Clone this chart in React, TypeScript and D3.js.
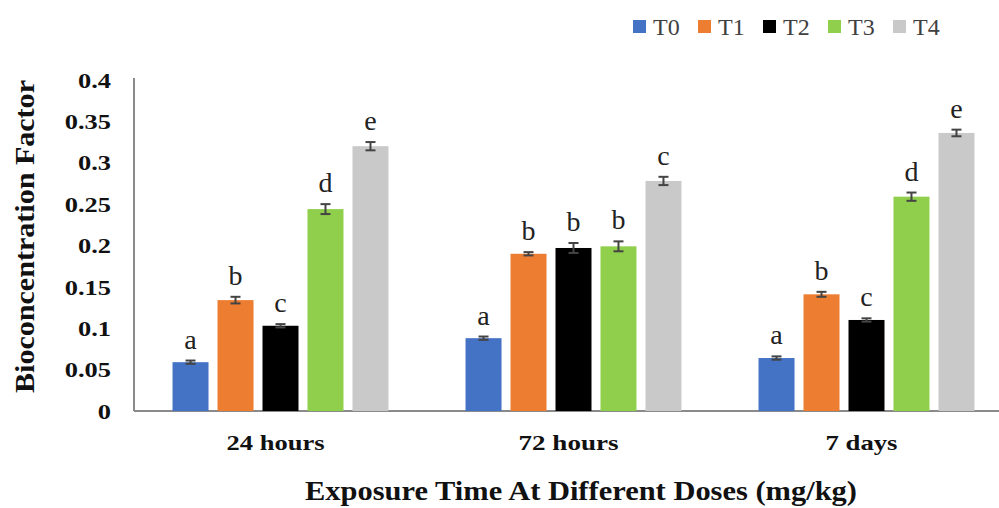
import React from "react";
import * as d3 from "d3";

const categories = ["24 hours", "72 hours", "7 days"];
const series = ["T0", "T1", "T2", "T3", "T4"];
const colors = ["#4472C4", "#ED7D31", "#000000", "#8FCF4C", "#C9C9C9"];
const t0 = [0.059, 0.088, 0.064];
const t1 = [0.134, 0.19, 0.141];
const t2 = [0.103, 0.197, 0.11];
const t3 = [0.244, 0.199, 0.259];
const t4 = [0.32, 0.278, 0.336];
const t0Err = [0.002, 0.002, 0.002];
const t1Err = [0.004, 0.002, 0.003];
const t2Err = [0.002, 0.006, 0.002];
const t3Err = [0.006, 0.006, 0.005];
const t4Err = [0.005, 0.005, 0.004];
const t0Lab = ["a", "a", "a"];
const t1Lab = ["b", "b", "b"];
const t2Lab = ["c", "b", "c"];
const t3Lab = ["d", "b", "d"];
const t4Lab = ["e", "c", "e"];
const yTicks = [0, 0.05, 0.1, 0.15, 0.2, 0.25, 0.3, 0.35, 0.4];
const yTickLabels = ["0", "0.05", "0.1", "0.15", "0.2", "0.25", "0.3", "0.35", "0.4"];

const values = [t0, t1, t2, t3, t4];
const errs = [t0Err, t1Err, t2Err, t3Err, t4Err];
const labs = [t0Lab, t1Lab, t2Lab, t3Lab, t4Lab];
const catLabelWidths = [98, 100, 72];

export default function App() {
  const W = 999, H = 508;
  const left = 134, right = 1013, top = 80, bottom = 411;
  const x0 = d3.scaleBand<string>().domain(categories).range([left, right]).paddingInner(0.263).paddingOuter(0.1315);
  const x1 = d3.scaleBand<string>().domain(series).range([0, x0.bandwidth()]).paddingInner(0.2);
  const y = d3.scaleLinear().domain([0, 0.4]).range([bottom, top]);
  const serif = "Liberation Serif, Times New Roman, serif";
  return (
    <svg width={W} height={H} style={{ position: "absolute", left: 0, top: 0, background: "#fff" }}>
      <line x1={left} x2={left} y1={top - 2} y2={bottom} stroke="#8a8a8a" strokeWidth={2} />
      <line x1={left} x2={W} y1={bottom} y2={bottom} stroke="#8a8a8a" strokeWidth={2} />
      {yTicks.map((t, i) => (
        <text key={i} transform={`translate(111,${y(t)}) scale(1.2,1)`} dy="0.35em" textAnchor="end" style={{ fontFamily: serif }} fontWeight="bold" fontSize={22} fill="#111">
          {yTickLabels[i]}
        </text>
      ))}
      <text transform={`translate(34,236.5) rotate(-90)`} textAnchor="middle" style={{ fontFamily: serif }} fontWeight="bold" fontSize={27} textLength={313} lengthAdjust="spacingAndGlyphs" fill="#111">
        Bioconcentration Factor
      </text>
      {categories.map((c, ci) => (
        <g key={c}>
          {series.map((s, si) => {
            const v = values[si][ci];
            const e = errs[si][ci];
            const bx = (x0(c) as number) + (x1(s) as number);
            const bw = x1.bandwidth();
            const cx = bx + bw / 2;
            return (
              <g key={s}>
                <rect x={bx} y={y(v)} width={bw} height={bottom - y(v)} fill={colors[si]} />
                <line x1={cx} x2={cx} y1={y(v + e)} y2={y(v - e)} stroke="#444" strokeWidth={2} />
                <line x1={cx - 5} x2={cx + 5} y1={y(v + e)} y2={y(v + e)} stroke="#444" strokeWidth={2} />
                <line x1={cx - 5} x2={cx + 5} y1={y(v - e)} y2={y(v - e)} stroke="#444" strokeWidth={2} />
                <text x={cx} y={y(v + e) - 12} textAnchor="middle" style={{ fontFamily: serif }} fontSize={28} fill="#222">
                  {labs[si][ci]}
                </text>
              </g>
            );
          })}
          <text x={(x0(c) as number) + x0.bandwidth() / 2 - 5 - catLabelWidths[ci] / 2} y={450} style={{ fontFamily: serif }} fontWeight="bold" fontSize={22} textLength={catLabelWidths[ci]} lengthAdjust="spacingAndGlyphs" fill="#111">
            {c}
          </text>
        </g>
      ))}
      <text x={305} y={500} style={{ fontFamily: serif }} fontWeight="bold" fontSize={27} textLength={552} lengthAdjust="spacingAndGlyphs" fill="#111">
        Exposure Time At Different Doses (mg/kg)
      </text>
      {series.map((s, i) => (
        <g key={s} transform={`translate(${633 + i * 65},0)`}>
          <rect x={0} y={20} width={13} height={13} fill={colors[i]} />
          <text x={20} y={35} style={{ fontFamily: serif }} fontSize={24} fill="#404040">
            {s}
          </text>
        </g>
      ))}
    </svg>
  );
}
